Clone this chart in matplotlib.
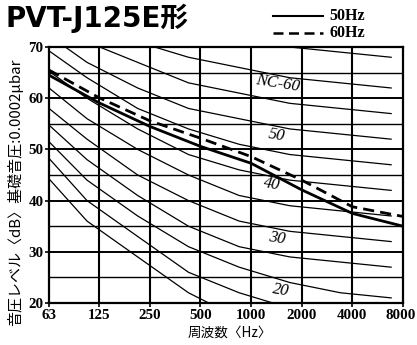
import matplotlib
matplotlib.use('Agg')
import matplotlib.pyplot as plt
import numpy as np

# octave band tick labels
freq_ticks = [63, 125, 250, 500, 1000, 2000, 4000, 8000]

# NC curves are drawn on the old band centres
nc_freqs = [53, 106, 212, 425, 850, 1700, 3400, 6800]
nc_levels = {
    15: [47, 36, 29, 22, 17, 14, 12, 11],
    20: [51, 40, 33, 26, 22, 19, 17, 16],
    25: [54, 44, 37, 31, 27, 24, 22, 21],
    30: [57, 48, 41, 35, 31, 29, 28, 27],
    35: [60, 52, 45, 40, 36, 34, 33, 32],
    40: [64, 56, 50, 45, 41, 39, 38, 37],
    45: [67, 60, 54, 49, 46, 44, 43, 42],
    50: [71, 64, 58, 54, 51, 49, 48, 47],
    55: [74, 67, 62, 58, 56, 54, 53, 52],
    60: [77, 71, 67, 63, 61, 59, 58, 57],
    65: [80, 75, 71, 68, 66, 64, 63, 62],
    70: [83, 79, 75, 72, 71, 70, 69, 68],
}

# measured levels of PVT-J125E
level_50hz = [64.5, 59.1, 54.5, 50.6, 47.3, 42.1, 37.5, 35.0]
level_60hz = [65.5, 60.1, 55.6, 52.2, 48.6, 44.0, 38.8, 36.9]

# NC labels: (text, freq, level)
nc_labels = [('NC-60', 1450, 62.9), ('50', 1420, 52.8), ('40', 1330, 43.2),
             ('30', 1420, 32.6), ('20', 1500, 22.4)]

fig = plt.figure(figsize=(4.17, 3.45), dpi=100)
ax = fig.add_axes([0.1175, 0.1217, 0.849, 0.742])
ax.set_xscale('log', base=2)
ax.set_xlim(63, 8000)
ax.set_ylim(20, 70)

# grid
for f in freq_ticks[1:-1]:
    ax.axvline(f, color='black', lw=1.5, zorder=1)
for y in range(25, 70, 5):
    ax.axhline(y, color='black', lw=1.4 if y % 10 == 0 else 1.0, zorder=1)

for nc, lv in nc_levels.items():
    ax.plot(nc_freqs, lv, color='black', lw=0.9, zorder=2)

ax.plot(freq_ticks, level_50hz, color='black', lw=2.0, zorder=3)
ax.plot(freq_ticks, level_60hz, color='black', lw=2.0, dashes=(4, 2.2), zorder=3)

for txt, f, y in nc_labels:
    ax.text(f, y, txt, fontsize=12, style='italic', family='Liberation Serif',
            ha='center', va='center', rotation=-9, zorder=4)

for s in ax.spines.values():
    s.set_linewidth(1.6)

tick_font = dict(family='Liberation Serif', fontweight='bold', fontsize=10.8)
ax.set_xticks(freq_ticks)
# last label is drawn by hand, nudged so it stays inside the figure
ax.set_xticklabels([str(f) for f in freq_ticks[:-1]] + [''], **tick_font)
ax.annotate(str(freq_ticks[-1]), xy=(freq_ticks[-1], 0),
            xycoords=('data', 'axes fraction'), xytext=(-1.5, -4),
            textcoords='offset points', ha='center', va='top', **tick_font)
ax.minorticks_off()
ax.set_yticks(range(20, 71, 10))
ax.set_yticklabels([str(v) for v in range(20, 71, 10)], **tick_font)
ax.tick_params(axis='both', width=1.2, length=3, pad=1)

cjk = ['Noto Sans CJK JP', 'DejaVu Sans']
fig.text(0.55, 0.036, '周波数〈Hz〉', family=cjk, fontsize=9.8,
         ha='center', va='center')
fig.text(0.036, 0.443, '音圧レベル〈dB〉基礎音圧:0.0002μbar', family=cjk,
         fontsize=10.8, rotation=90, ha='center', va='center')

# title and legend
fig.text(0.012, 0.947, 'PVT-J125E形', fontsize=20, fontweight='bold',
         family=['DejaVu Sans', 'Noto Sans CJK JP'], va='center', ha='left')
fig.add_artist(plt.Line2D([0.655, 0.775], [0.955, 0.955], color='black', lw=1.5,
                          transform=fig.transFigure))
fig.add_artist(plt.Line2D([0.655, 0.775], [0.905, 0.905], color='black', lw=1.8,
                          dashes=(4, 2.2), transform=fig.transFigure))
fig.text(0.79, 0.955, '50Hz', fontsize=11.5, family='Liberation Serif',
         fontweight='bold', va='center')
fig.text(0.79, 0.905, '60Hz', fontsize=11.5, family='Liberation Serif',
         fontweight='bold', va='center')

fig.savefig('out.png', dpi=100)
